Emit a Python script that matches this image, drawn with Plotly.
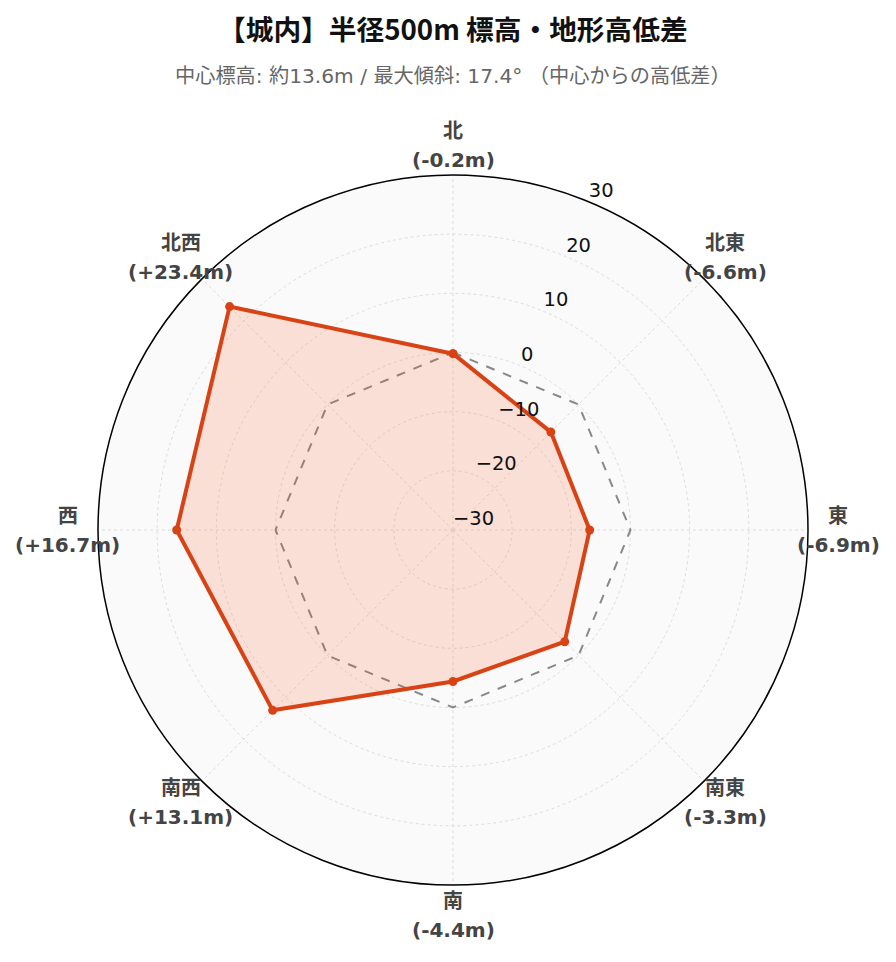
import math
import plotly.graph_objects as go

directions = ["北", "北東", "東", "南東", "南", "南西", "西", "北西"]
angles_deg = [0, 45, 90, 135, 180, 225, 270, 315]
diffs = [-0.2, -6.6, -6.9, -3.3, -4.4, 13.1, 16.7, 23.4]
baseline = [0, 0, 0, 0, 0, 0, 0, 0]
radial_ticks = [-30, -20, -10, 0, 10, 20, 30]
radial_label_angle = 22.5

title_text = "【城内】半径500m 標高・地形高低差"
subtitle_text = "中心標高: 約13.6m / 最大傾斜: 17.4° （中心からの高低差）"


def fmt(v):
    return f"+{v:.1f}m" if v > 0 else f"{v:.1f}m"


value_labels = [f"({fmt(v)})" for v in diffs]

fig = go.Figure()
fig.add_trace(go.Scatterpolar(
    r=baseline + [baseline[0]], theta=angles_deg + [angles_deg[0]],
    mode="lines", line=dict(color="#888888", width=2, dash="dash"),
    hoverinfo="skip", showlegend=False))
fig.add_trace(go.Scatterpolar(
    r=diffs + [diffs[0]], theta=angles_deg + [angles_deg[0]],
    mode="lines+markers", fill="toself",
    fillcolor="rgba(255,87,34,0.16)",
    line=dict(color="#d84315", width=4),
    marker=dict(size=9, color="#d84315"),
    showlegend=False))
fig.add_trace(go.Scatterpolar(
    r=radial_ticks, theta=[radial_label_angle] * len(radial_ticks),
    mode="text", text=[str(t).replace("-", "\u2212") for t in radial_ticks],
    textposition="top right", cliponaxis=False,
    textfont=dict(size=19.5, color="#111111", family="DejaVu Sans, sans-serif"),
    hoverinfo="skip", showlegend=False))

cjk_latin = "DejaVu Sans, Noto Sans CJK JP, sans-serif"
H_TOP, H_BOT = 167, 877
PLOT = H_BOT - H_TOP


def py(ypix):
    return (H_BOT - ypix) / PLOT


fig.update_layout(
    width=896, height=962,
    paper_bgcolor="white",
    margin=dict(l=90, r=96, t=H_TOP, b=962 - H_BOT),
    font=dict(family=cjk_latin),
    polar=dict(
        bgcolor="#fafafa",
        radialaxis=dict(
            range=[-30, 30], tickvals=radial_ticks, angle=67.5,
            showticklabels=False, showline=False, ticks="",
            gridcolor="#dddddd", griddash="dot", gridwidth=1,
        ),
        angularaxis=dict(
            direction="clockwise", rotation=90, thetaunit="degrees",
            tickvals=angles_deg, showticklabels=False,
            showline=True, linecolor="black", linewidth=1.5,
            gridcolor="#dddddd", griddash="dot", gridwidth=1, ticks="",
        ),
    ),
)

label_r = 385 / PLOT
for name, val, ang in zip(directions, value_labels, angles_deg):
    a = math.radians(ang)
    x = 0.5 + label_r * math.sin(a)
    y = 0.5 + label_r * math.cos(a)
    for txt, shift in ((name, 14.5), (val, -14.5)):
        fig.add_annotation(text=f"<b>{txt}</b>", xref="paper", yref="paper",
                           x=x, y=y, xanchor="center", yanchor="middle",
                           yshift=shift, showarrow=False,
                           font=dict(size=20, color="#444444", family=cjk_latin))

fig.add_annotation(text=f"<b>{title_text}</b>", xref="paper", yref="paper",
                   x=0.5, y=py(20), yanchor="middle", showarrow=False,
                   font=dict(size=27.7, color="#111111", family="Noto Sans CJK JP, sans-serif"))
fig.add_annotation(text=subtitle_text, xref="paper", yref="paper",
                   x=0.5, y=py(68), yanchor="middle", showarrow=False,
                   font=dict(size=20.2, color="#666666", family=cjk_latin))
fig.write_html("out.html")
